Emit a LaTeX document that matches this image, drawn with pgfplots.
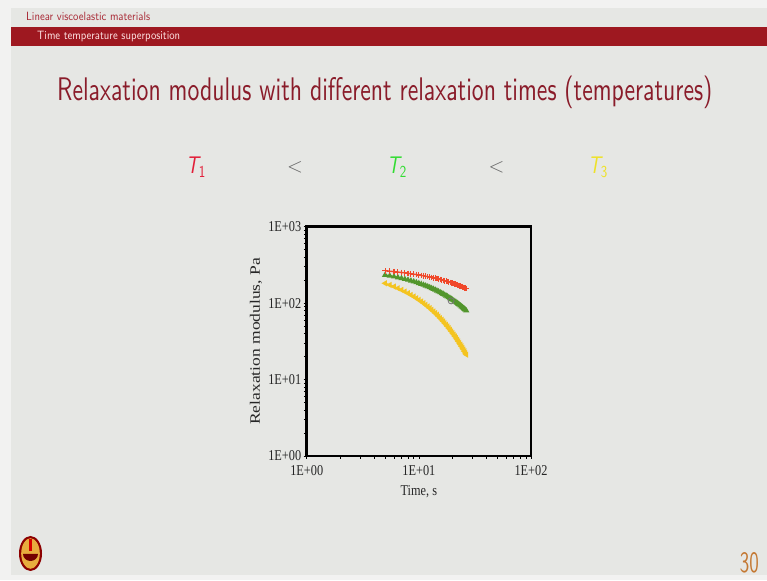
\documentclass[border=0pt]{standalone}
\usepackage{fontspec}
\newfontfamily\tnr{Liberation Serif}
\usepackage{graphicx}
\usepackage{pgfplots}
\usepackage{pgfplotstable}
\pgfplotsset{compat=1.18}
\definecolor{slidebg}{RGB}{230,231,228}
\definecolor{outerbg}{RGB}{242,242,241}
\definecolor{bandred}{RGB}{158,24,32}
\definecolor{titlered}{RGB}{138,28,42}
\definecolor{headred}{RGB}{168,40,52}
\definecolor{cred}{RGB}{240,72,42}
\definecolor{cgreen}{RGB}{82,150,44}
\definecolor{cyellow}{RGB}{244,196,32}
\definecolor{tone}{RGB}{226,30,56}
\definecolor{ttwo}{RGB}{50,220,50}
\definecolor{tthree}{RGB}{238,226,40}
\definecolor{pagenum}{RGB}{196,120,50}
\definecolor{logogold}{RGB}{232,172,62}
\newcommand{\sq}[1]{\scalebox{0.82}[1]{#1}}

\pgfplotstableread{
t red green yellow
5 264.75 233.64 181.96
5.5 261.46 227.87 173.09
6 258.21 222.25 164.64
6.5 255.00 216.76 156.61
7 251.84 211.41 148.98
7.5 248.71 206.19 141.71
8 245.62 201.10 134.80
8.5 242.57 196.13 128.22
9 239.55 191.29 121.97
9.5 236.58 186.57 116.02
10 233.64 181.96 110.36
10.5 230.74 177.47 104.98
11 227.87 173.09 99.86
11.5 225.04 168.81 94.99
12 222.25 164.64 90.36
12.5 219.49 160.58 85.95
13 216.76 156.61 81.76
13.5 214.07 152.75 77.77
14 211.41 148.98 73.98
14.5 208.78 145.30 70.37
15 206.19 141.71 66.94
15.5 203.63 138.21 63.67
16 201.10 134.80 60.57
16.5 198.60 131.47 57.62
17 196.13 128.22 54.81
17.5 193.69 125.05 52.14
18 191.29 121.97 49.59
18.5 188.91 118.96 47.17
19 186.57 116.02 44.87
19.5 184.25 113.16 42.68
20 181.96 110.36 40.60
20.5 179.70 107.64 38.62
21 177.47 104.98 36.74
21.5 175.27 102.39 34.95
22 173.09 99.86 33.24
22.5 170.94 97.39 31.62
23 168.82 94.99 30.08
23.5 166.71 92.65 28.61
24 164.64 90.36 27.22
24.5 162.60 88.13 25.89
25 160.58 85.95 24.63
25.5 158.59 83.83 23.43
26 156.62 81.76 22.28
26.5 154.67 79.74 21.19
}\relaxdata

\begin{document}
\begin{tikzpicture}[x=1pt,y=1pt]
% slide background
\fill[outerbg] (0,0) rectangle (767,580);
\fill[slidebg] (11,5) rectangle (767,572);
\fill[bandred] (11,534) rectangle (767,553);
\node[anchor=base west, inner sep=0, text=headred] at (26,559.3)
  {\resizebox{124pt}{8.3pt}{\sffamily Linear viscoelastic materials}};
\node[anchor=base west, inner sep=0, text=white!90!red] at (37,540.5)
  {\resizebox{143pt}{8.3pt}{\sffamily Time temperature superposition}};
% title
\node[anchor=base west, inner sep=0, text=titlered] at (57,479.5)
  {\resizebox{655pt}{24.5pt}{\sffamily Relaxation modulus with different relaxation times (temperatures)}};
% temperature row
\node[anchor=base west, inner sep=0, text=tone] at (186,406.7)
  {\scalebox{0.82}[1]{\fontsize{24}{28}\selectfont\sffamily\slshape T\textsubscript{\upshape 1}}};
\node[anchor=base west, inner sep=0, text=ttwo] at (387,406.7)
  {\scalebox{0.82}[1]{\fontsize{24}{28}\selectfont\sffamily\slshape T\textsubscript{\upshape 2}}};
\node[anchor=base west, inner sep=0, text=tthree] at (588,406.7)
  {\scalebox{0.82}[1]{\fontsize{24}{28}\selectfont\sffamily\slshape T\textsubscript{\upshape 3}}};
\node[inner sep=0, text=black!60] at (295,413) {\fontsize{22}{26}\selectfont$<$};
\node[inner sep=0, text=black!60] at (496.5,413) {\fontsize{22}{26}\selectfont$<$};
% logo
\fill[red!55!black] (30.5,26.5) ellipse (11.5 and 17.5);
\fill[logogold] (30.5,26.5) ellipse (9.3 and 15.3);
\fill[red!85!black] (29,29) rectangle (32,41);
\fill[red!45!black] (23,26) -- (38,26) arc[start angle=0, end angle=-180, x radius=7.5, y radius=7] -- cycle;
% page number
\node[anchor=base east, inner sep=0, text=pagenum] at (759,8)
  {\resizebox{19pt}{20pt}{\sffamily 30}};

\begin{axis}[
  at={(306.7pt,124pt)}, anchor=south west,
  scale only axis, width=224.3pt, height=229.3pt,
  xmode=log, ymode=log, xmin=1, xmax=100, ymin=1, ymax=1000,
  xtick={1,10,100}, xticklabels={\sq{1E+00},\sq{1E+01},\sq{1E+02}},
  ytick={1,10,100,1000}, yticklabels={\sq{1E+00},\sq{1E+01},\sq{1E+02},\sq{1E+03}},
  minor xtick={}, minor ytick={},
  tick align=outside, major tick length=3pt,
  tick style={black, line width=0.6pt},
  xtick pos=bottom, ytick pos=left,
  axis line style={line width=2.6pt, black},
  tick label style={font=\tnr\fontsize{15}{17}\selectfont, text=black!85},
  xticklabel style={yshift=-3pt},
  yticklabel style={xshift=1pt},
  xlabel={\sq{Time, s}}, ylabel={\scalebox{1}[0.82]{Relaxation modulus, Pa}},
  xlabel style={at={(axis description cs:0.5,-0.157)}, anchor=center,
    font=\tnr\fontsize{15}{17}\selectfont, text=black!85},
  ylabel style={at={(axis description cs:-0.226,0.5)}, anchor=center,
    font=\tnr\fontsize{17.5}{19}\selectfont, text=black!85},
  clip=false,
]
\addplot[cyellow, line width=1.4pt, mark=triangle*, mark size=2.2pt,
  mark options={rotate=-30}] table[x=t, y=yellow] {\relaxdata};
\addplot[cgreen, line width=1.4pt, mark=triangle*, mark size=2.2pt]
  table[x=t, y=green] {\relaxdata};
\addplot[cred, line width=1.4pt, mark=+, mark size=2.8pt,
  mark options={line width=1.1pt}] table[x=t, y=red] {\relaxdata};
\addplot[only marks, mark=o, mark size=3pt, black!55, line width=0.8pt]
  coordinates {(19.4,107)};
\end{axis}
\end{tikzpicture}
\end{document}
